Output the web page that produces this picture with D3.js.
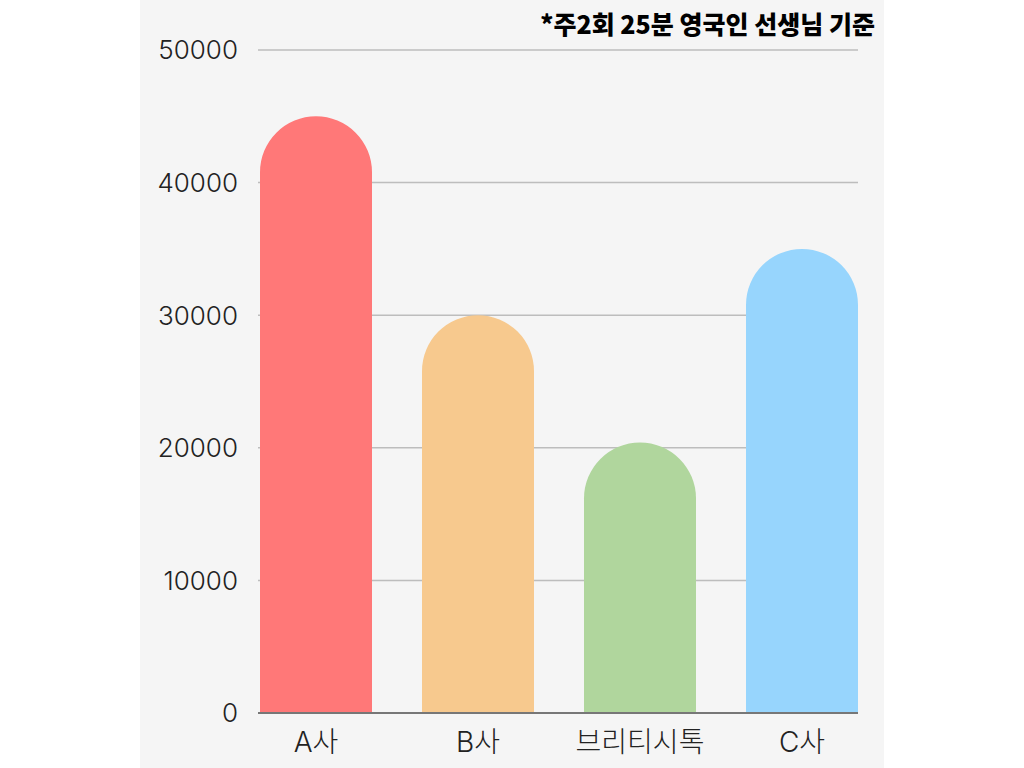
<!DOCTYPE html>
<html><head><meta charset="utf-8">
<script src="https://cdn.jsdelivr.net/npm/d3@7"></script>
<style>body{margin:0;background:#fff;} svg{display:block;}</style>
</head><body>
<svg id="c" width="1024" height="768"></svg>
<script>
const categories = ["A사", "B사", "브리티시톡", "C사"];
const values = [45000, 30000, 20400, 35000];
const colors = ["#ff7878", "#f7c98e", "#b0d69d", "#97d5fd"];
const yTicks = [0, 10000, 20000, 30000, 40000, 50000];
const title = "*주2회 25분 영국인 선생님 기준";

const svg = d3.select("#c");
svg.append("rect").attr("x", 140).attr("y", 0).attr("width", 744).attr("height", 768).attr("fill", "#f5f5f5");

const x = d3.scaleBand().domain(categories).range([260, 858]).paddingInner(50/162).paddingOuter(0);
const y = d3.scaleLinear().domain([0, 50000]).range([713, 50]);

const font = "Inter, 'Noto Sans CJK KR', sans-serif";

// gridlines
svg.append("g").selectAll("line").data(yTicks.filter(d => d > 0)).join("line")
  .attr("x1", 258).attr("x2", 858).attr("y1", d => y(d)).attr("y2", d => y(d))
  .attr("stroke", "#bdbdbd").attr("stroke-width", 1.5);

// y tick labels
svg.append("g").selectAll("text").data(yTicks).join("text")
  .attr("x", 238).attr("y", d => y(d)).attr("dy", "0.36em")
  .attr("text-anchor", "end").attr("font-family", font).attr("font-weight", 300)
  .attr("font-size", 26).attr("fill", "#222").text(d => d);

// bars with round tops
const bw = x.bandwidth();
svg.append("g").selectAll("path").data(categories).join("path")
  .attr("d", (c, i) => {
    const x0 = x(c), x1 = x0 + bw, r = bw / 2;
    const top = y(values[i]), base = y(0);
    return `M${x0},${base}L${x0},${top + r}A${r},${r} 0 0 1 ${x1},${top + r}L${x1},${base}Z`;
  })
  .attr("fill", (c, i) => colors[i]);

// baseline
svg.append("line").attr("x1", 258).attr("x2", 858).attr("y1", y(0)).attr("y2", y(0))
  .attr("stroke", "#777").attr("stroke-width", 2);

// category labels
svg.append("g").selectAll("text").data(categories).join("text")
  .attr("x", c => x(c) + bw / 2).attr("y", 752)
  .attr("text-anchor", "middle").attr("font-family", font).attr("font-weight", 300)
  .attr("font-size", 28).attr("fill", "#222").text(c => c);

// title
svg.append("text").attr("x", 875).attr("y", 34).attr("text-anchor", "end")
  .attr("font-family", "'Noto Sans CJK KR', sans-serif").attr("font-weight", 900).attr("font-size", 25)
  .attr("fill", "#000").text(title);
</script>
</body></html>
